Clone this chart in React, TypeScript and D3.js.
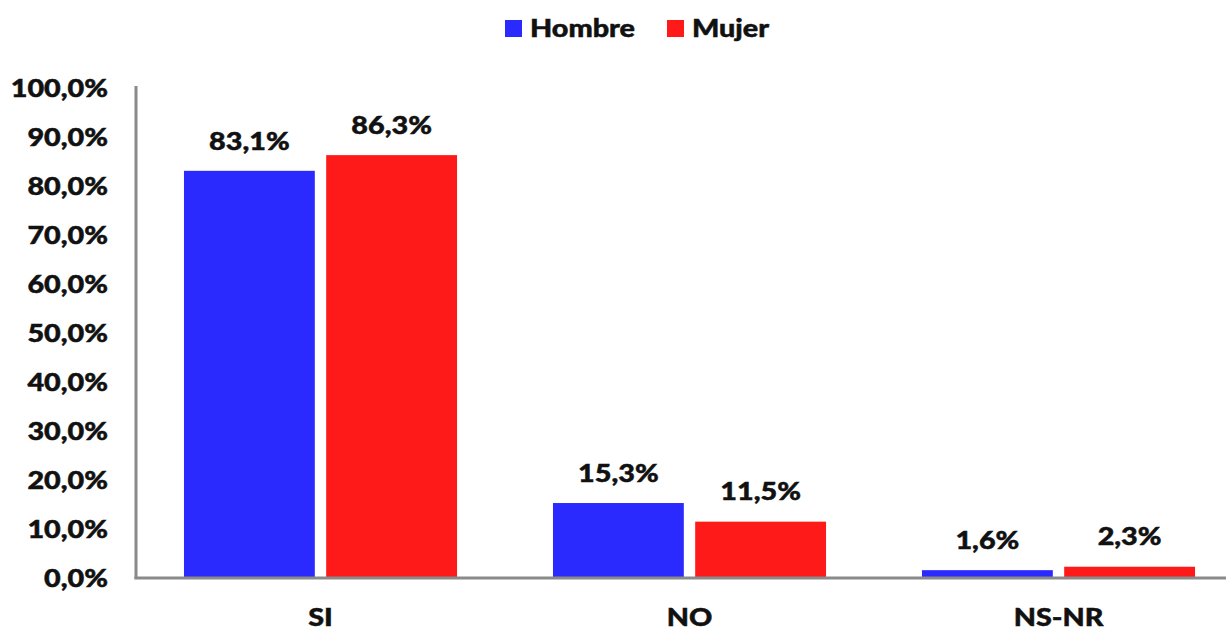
import React from "react";
import * as d3 from "d3";

const categories = ["SI", "NO", "NS-NR"];
const seriesNames = ["Hombre", "Mujer"];
const hombre = [83.1, 15.3, 1.6];
const mujer = [86.3, 11.5, 2.3];
const yTicks = [0, 10, 20, 30, 40, 50, 60, 70, 80, 90, 100];
const colors = ["#2A2AFF", "#FF1A1A"];

const W = 1226;
const H = 632;
const FONT = "Lato, 'Open Sans', sans-serif";

function T({ x, y, anchor = "start", size = 25, children }: { x: number; y: number; anchor?: string; size?: number; children: React.ReactNode }) {
  return (
    <text
      transform={`translate(${x},${y}) scale(1.15,1)`}
      dy="0.35em"
      textAnchor={anchor}
      fontSize={size}
      fontWeight={900}
      fill="#111"
      stroke="#111"
      strokeWidth={0.5}
    >
      {children}
    </text>
  );
}

export default function App() {
  const x0 = d3.scaleBand<string>().domain(categories).range([136, 1243]).paddingInner(0.26).paddingOuter(0.13);
  const x1 = d3.scaleBand<string>().domain(seriesNames).range([0, x0.bandwidth()]).paddingInner(0.08).paddingOuter(0);
  const y = d3.scaleLinear().domain([0, 100]).range([578, 88]);
  const values = [hombre, mujer];
  const fmt = (v: number) => v.toFixed(1).replace(".", ",") + "%";

  return (
    <svg width={W} height={H} style={{ position: "absolute", left: 0, top: 0, background: "#fff" }} fontFamily={FONT}>
      {/* legend */}
      <g>
        <rect x={505} y={20} width={17} height={17} fill={colors[0]} />
        <T x={530} y={28} size={25}>Hombre</T>
        <rect x={667} y={20} width={17} height={17} fill={colors[1]} />
        <T x={692} y={28} size={25}>Mujer</T>
      </g>
      {/* y tick labels */}
      {yTicks.map((t) => (
        <T key={t} x={108} y={y(t)} anchor="end">
          {t.toFixed(1).replace(".", ",") + "%"}
        </T>
      ))}
      {/* bars */}
      {categories.map((c, i) => (
        <g key={c} transform={`translate(${x0(c)},0)`}>
          {seriesNames.map((s, j) => {
            const v = values[j][i];
            const bx = x1(s)!;
            return (
              <g key={s}>
                <rect x={bx} y={y(v)} width={x1.bandwidth()} height={y(0) - y(v)} fill={colors[j]} />
                <T x={bx + x1.bandwidth() / 2} y={y(v) - 30} anchor="middle">
                  {fmt(v)}
                </T>
              </g>
            );
          })}
          <T x={x0.bandwidth() / 2} y={617} anchor="middle">
            {c}
          </T>
        </g>
      ))}
      {/* axes */}
      <line x1={136} y1={86} x2={136} y2={579} stroke="#8a8a8a" strokeWidth={3} />
      <line x1={134.5} y1={578} x2={1226} y2={578} stroke="#8a8a8a" strokeWidth={3} />
    </svg>
  );
}
